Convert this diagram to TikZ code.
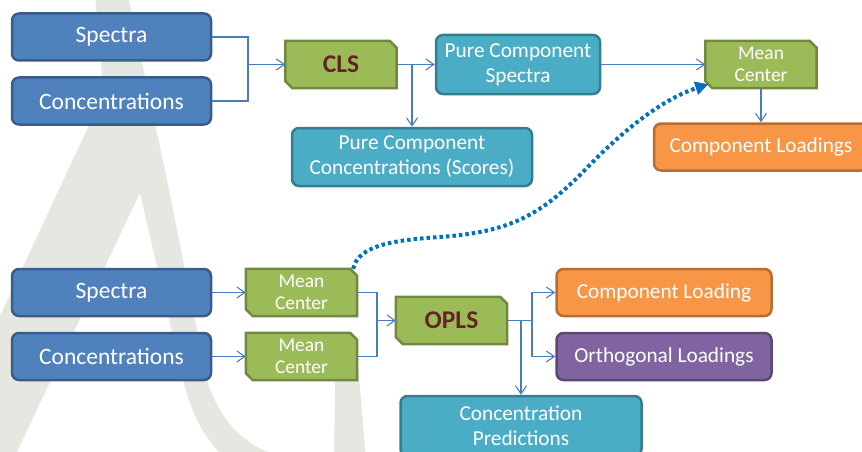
\documentclass[tikz,border=0pt]{standalone}
\usepackage{fontspec}
\setmainfont{Carlito}
\usetikzlibrary{arrows.meta,backgrounds}

\definecolor{boxblue}{HTML}{4F81BD}
\definecolor{boxblueline}{HTML}{385D8A}
\definecolor{boxgreen}{HTML}{9BBB59}
\definecolor{boxgreenline}{HTML}{71893F}
\definecolor{boxteal}{HTML}{4BACC6}
\definecolor{boxtealline}{HTML}{357D91}
\definecolor{boxorange}{HTML}{F79646}
\definecolor{boxorangeline}{HTML}{B66D31}
\definecolor{boxpurple}{HTML}{8064A2}
\definecolor{boxpurpleline}{HTML}{5C4776}
\definecolor{methodtext}{HTML}{632523}
\definecolor{linkblue}{HTML}{4A7EBB}
\definecolor{dotblue}{HTML}{0070C0}
\definecolor{markgray}{RGB}{231,231,226}

\tikzset{
  box/.style={draw, rounded corners=7pt, line width=2.5pt, text=white, inner sep=0pt, align=center},
  databox/.style={box, fill=boxblue, draw=boxblueline, minimum width=199pt, minimum height=47pt, font=\fontsize{23.5}{27}\selectfont},
  resultbox/.style={box, fill=boxteal, draw=boxtealline, font=\fontsize{21.3}{25}\selectfont},
  loadbox/.style={box, fill=boxorange, draw=boxorangeline, minimum height=47pt, font=\fontsize{21.3}{25}\selectfont},
  orthbox/.style={box, fill=boxpurple, draw=boxpurpleline, minimum height=47pt, font=\fontsize{21.3}{25}\selectfont},
  snip/.style={inner sep=0pt, minimum width=111pt, minimum height=47pt, align=center, text=white, font=\fontsize{19.5}{21.5}\selectfont},
  method/.style={snip, text=methodtext, font=\bfseries\fontsize{25.5}{30}\selectfont},
  snipfill/.style={fill=boxgreen, draw=boxgreenline, line width=2.5pt},
  link/.style={draw=linkblue, line width=1.1pt},
  arr/.style={link, -{Straight Barb[length=8pt,width=11pt]}},
  dotlink/.style={draw=dotblue, line width=4pt, dash pattern=on 3.5pt off 3pt, -{Triangle[length=13pt,width=13pt]}}
}

% frame with two cut corners behind a snip node
\newcommand{\snipframe}[1]{%
  \filldraw[snipfill] (#1.north west) -- ([xshift=-7pt]#1.north east) -- ([yshift=-7pt]#1.north east)
    -- (#1.south east) -- ([xshift=7pt]#1.south west) -- ([yshift=7pt]#1.south west) -- cycle;}

\begin{document}
\begin{tikzpicture}[x=1pt, y=-1pt]
  \path[use as bounding box, clip] (0,0) rectangle (862,452);
  % CLS part
  \node[databox] (spectop) at (111.5,37) {Spectra};
  \node[databox] (conctop) at (111.5,101) {Concentrations};
  \node[method] (cls) at (341,64.5) {CLS};
  \node[resultbox, minimum width=164pt, minimum height=59pt] (pcs) at (518,64.5) {Pure Component\\Spectra};
  \node[snip] (mctop) at (761,64.5) {Mean\\Center};
  \node[loadbox, minimum width=214pt] (loadtop) at (761,147) {Component Loadings};
  \node[resultbox, minimum width=240pt, minimum height=58pt] (pcc) at (412,157) {Pure Component\\Concentrations (Scores)};
  % OPLS part
  \node[databox] (specbot) at (111.5,292.5) {Spectra};
  \node[databox] (concbot) at (111.5,356.5) {Concentrations};
  \node[snip] (mcone) at (301.5,292.5) {Mean\\Center};
  \node[snip] (mctwo) at (301.5,356.5) {Mean\\Center};
  \node[method] (opls) at (451.5,320.5) {OPLS};
  \node[loadbox, minimum width=215pt] (loadbot) at (664,292.5) {Component Loading};
  \node[orthbox, minimum width=215pt] (orth) at (664,356.5) {Orthogonal Loadings};
  \node[resultbox, minimum width=241pt, minimum height=60pt] (pred) at (521,426) {Concentration\\Predictions};

  \begin{scope}[on background layer]
    % faint logo behind the chart
    \fill[markgray] (95,-5) -- (128,-5) -- (167,180) -- (207,380)
      .. controls (218,415) and (238,440) .. (268,452) -- (334,452) -- (336,340) -- (356,340)
      -- (367,470) -- (240,470) .. controls (210,450) and (193,420) .. (183,380)
      -- (140,193) -- (13,460) -- (-5,460) -- (-5,327) -- (88,127) -- (102,75) -- cycle;
    \foreach \n in {cls,mctop,mcone,mctwo,opls} \snipframe{\n};
  \end{scope}

  \coordinate (jcls) at (248,64.5);
  \coordinate (jcut) at (412,64.5);
  \coordinate (jopls) at (377,320.5);
  \coordinate (jout) at (532,320.5);
  \coordinate (jpred) at (521,320.5);

  \draw[link] (spectop.east) -| (jcls);
  \draw[link] (conctop.east) -| (jcls);
  \draw[arr] (jcls) -- (cls.west);
  \draw[arr] (cls.east) -- (pcs.west);
  \draw[arr] (jcut) -- (pcc.north);
  \draw[arr] (pcs.east) -- (mctop.west);
  \draw[arr] (mctop.south) -- (loadtop.north);

  \draw[arr] (specbot.east) -- (mcone.west);
  \draw[arr] (concbot.east) -- (mctwo.west);
  \draw[link] (mcone.east) -| (jopls);
  \draw[link] (mctwo.east) -| (jopls);
  \draw[arr] (jopls) -- (opls.west);
  \draw[link] (opls.east) -- (jout);
  \draw[arr] (jout) |- (loadbot.west);
  \draw[arr] (jout) |- (orth.west);
  \draw[arr] (jpred) -- (pred.north);

  % mean centering carried over from CLS
  \draw[dotlink] ([xshift=-4pt]mcone.north east) .. controls (358,245) and (395,240) .. (440,237)
    .. controls (510,232) and (540,215) .. (582,173)
    .. controls (620,133) and (660,100) .. ([xshift=3pt,yshift=4pt]mctop.south west);
\end{tikzpicture}
\end{document}
